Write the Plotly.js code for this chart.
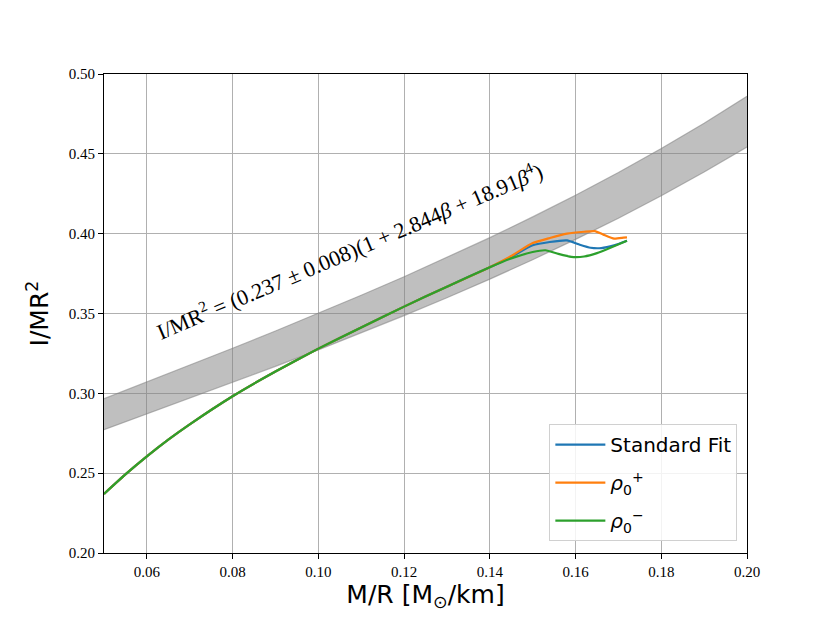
<!DOCTYPE html>
<html>
<head>
<meta charset="utf-8">
<script src="https://cdn.plot.ly/plotly-3.0.1.min.js"></script>
<style>
  html, body { margin: 0; padding: 0; background: #fff; }
  #chart { width: 830px; height: 623px; }
</style>
</head>
<body>
<div id="chart"></div>
<script>
// band (lower / upper edge)
const bandX = [0.05, 0.06, 0.07, 0.08, 0.09, 0.10, 0.11, 0.12, 0.13, 0.14, 0.15, 0.16, 0.17, 0.18, 0.19, 0.20];
const bandLo = [0.2772, 0.2870, 0.2968, 0.3068, 0.3169, 0.3272, 0.3378, 0.3487, 0.3599, 0.3715, 0.3837, 0.3964, 0.4097, 0.4237, 0.4386, 0.4543];
const bandHi = [0.2966, 0.3070, 0.3176, 0.3282, 0.3390, 0.3501, 0.3614, 0.3730, 0.3850, 0.3975, 0.4105, 0.4241, 0.4383, 0.4533, 0.4692, 0.4860];

// curves share the low-compactness part
const baseX = [0.05, 0.055, 0.06, 0.065, 0.07, 0.08, 0.09, 0.10, 0.11, 0.12, 0.13, 0.14];
const baseY = [0.2370, 0.2492, 0.2605, 0.2710, 0.2806, 0.2982, 0.3137, 0.3280, 0.3412, 0.3543, 0.3668, 0.3790];

const stdX = [0.145, 0.15, 0.154, 0.158, 0.161, 0.1635, 0.166, 0.169, 0.172];
const stdY = [0.3855, 0.3927, 0.3948, 0.3958, 0.3931, 0.3912, 0.391, 0.3927, 0.3956];

const plusX = [0.145, 0.15, 0.154, 0.158, 0.162, 0.1645, 0.1665, 0.169, 0.1712, 0.172];
const plusY = [0.386, 0.3941, 0.3973, 0.400, 0.4012, 0.4016, 0.3994, 0.3969, 0.3975, 0.3977];

const minusX = [0.145, 0.15, 0.153, 0.156, 0.159, 0.162, 0.165, 0.168, 0.172];
const minusY = [0.3845, 0.3885, 0.3896, 0.3873, 0.3855, 0.3857, 0.3878, 0.391, 0.3956];

const names = ['Standard Fit', '<i>ρ</i><sub>0</sub><sup>+</sup>', '<i>ρ</i><sub>0</sub><sup>−</sup>'];
const colors = ['#1f77b4', '#ff7f0e', '#2ca02c'];

const bandEdge = { color: 'rgba(128,128,128,0.55)', width: 1.2 };

const traces = [
  { x: bandX, y: bandLo, type: 'scatter', mode: 'lines', line: bandEdge,
    showlegend: false, hoverinfo: 'skip' },
  { x: bandX, y: bandHi, type: 'scatter', mode: 'lines', line: bandEdge,
    fill: 'tonexty', fillcolor: 'rgba(128,128,128,0.5)',
    showlegend: false, hoverinfo: 'skip' },
];

[[stdX, stdY], [plusX, plusY], [minusX, minusY]].forEach(([xs, ys], i) => {
  traces.push({
    x: baseX.concat(xs), y: baseY.concat(ys),
    type: 'scatter', mode: 'lines', name: names[i], legendgroup: 'g' + i,
    line: { color: colors[i], width: 2.2, shape: 'spline', smoothing: 0.5 },
  });
});

const serif = '"Liberation Serif", "DejaVu Serif", serif';
const sans = '"DejaVu Sans", sans-serif';
const axisBase = {
  showline: true, linecolor: '#000', linewidth: 1.2, mirror: true,
  ticks: 'outside', ticklen: 5, tickwidth: 1, tickcolor: '#000',
  showgrid: true, gridcolor: '#b0b0b0', gridwidth: 1.2,
  zeroline: false, tickformat: '.2f',
};

Plotly.newPlot('chart', traces, {
  width: 830, height: 623,
  font: { family: serif, size: 15, color: '#000' },
  paper_bgcolor: '#fff', plot_bgcolor: '#fff',
  margin: { l: 104, r: 83, t: 74, b: 70 },
  xaxis: Object.assign({}, axisBase, {
    range: [0.05, 0.20], tick0: 0.06, dtick: 0.02,
    tickfont: { family: serif, size: 15, color: '#000' },
    title: { text: 'M/R [M<sub>⊙</sub>/km]', standoff: 6,
      font: { family: sans, size: 25, color: '#000' } },
  }),
  yaxis: Object.assign({}, axisBase, {
    range: [0.20, 0.50], tick0: 0.20, dtick: 0.05,
    tickfont: { family: serif, size: 15, color: '#000' },
    title: { text: 'I/MR<sup>2</sup>', standoff: 12,
      font: { family: sans, size: 25, color: '#000' } },
  }),
  legend: {
    x: 0.985, xanchor: 'right', y: 0.025, yanchor: 'bottom',
    traceorder: 'grouped', itemwidth: 50, tracegroupgap: 9,
    bgcolor: 'rgba(255,255,255,0.85)', bordercolor: '#d0d0d0', borderwidth: 1,
    font: { family: sans, size: 20, color: '#000' },
  },
  annotations: [{
    x: 0.1072, y: 0.3895, xref: 'x', yref: 'y', showarrow: false,
    textangle: -23,
    text: 'I/MR<sup>2</sup> = (0.237 ± 0.008)(1 + 2.844<i>β</i> + 18.91<i>β</i><sup>4</sup>)',
    font: { family: serif, size: 22, color: '#000' },
  }],
}, { displayModeBar: false });
</script>
</body>
</html>
